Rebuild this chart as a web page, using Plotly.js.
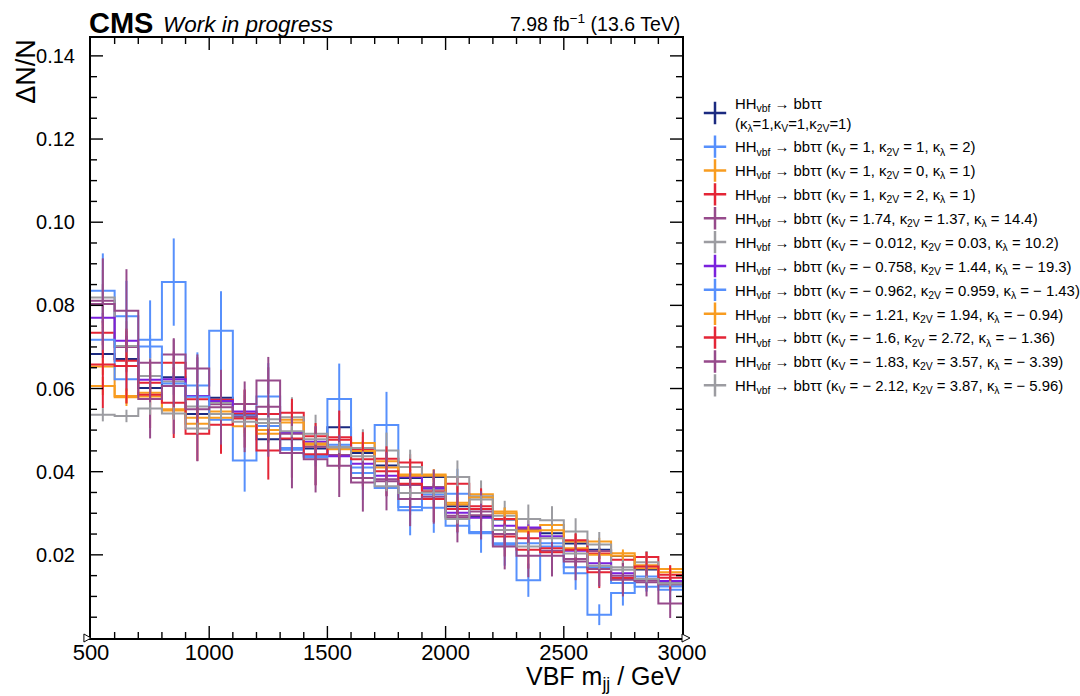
<!DOCTYPE html>
<html>
<head>
<meta charset="utf-8">
<script src="https://cdn.plot.ly/plotly-3.0.1.min.js"></script>
<style>html,body{margin:0;padding:0;background:#fff;}#chart{width:1080px;height:696px;}</style>
</head>
<body>
<div id="chart"></div>
<script>
// ---- data ----
const binEdges = [500,600,700,800,900,1000,1100,1200,1300,1400,1500,1600,1700,1800,1900,2000,2100,2200,2300,2400,2500,2600,2700,2800,2900,3000];
const xTicks = [500,1000,1500,2000,2500,3000];
const yTicks = [0.02,0.04,0.06,0.08,0.10,0.12,0.14];
const yMinorStep = 0.005;

const labels = [
  "HH<sub>vbf</sub> → bbττ<br>(κ<sub>λ</sub>=1,κ<sub>V</sub>=1,κ<sub>2V</sub>=1)",
  "HH<sub>vbf</sub> → bbττ (κ<sub>V</sub> = 1, κ<sub>2V</sub> = 1, κ<sub>λ</sub> = 2)",
  "HH<sub>vbf</sub> → bbττ (κ<sub>V</sub> = 1, κ<sub>2V</sub> = 0, κ<sub>λ</sub> = 1)",
  "HH<sub>vbf</sub> → bbττ (κ<sub>V</sub> = 1, κ<sub>2V</sub> = 2, κ<sub>λ</sub> = 1)",
  "HH<sub>vbf</sub> → bbττ (κ<sub>V</sub> = 1.74, κ<sub>2V</sub> = 1.37, κ<sub>λ</sub> = 14.4)",
  "HH<sub>vbf</sub> → bbττ (κ<sub>V</sub> = − 0.012, κ<sub>2V</sub> = 0.03, κ<sub>λ</sub> = 10.2)",
  "HH<sub>vbf</sub> → bbττ (κ<sub>V</sub> = − 0.758, κ<sub>2V</sub> = 1.44, κ<sub>λ</sub> = − 19.3)",
  "HH<sub>vbf</sub> → bbττ (κ<sub>V</sub> = − 0.962, κ<sub>2V</sub> = 0.959, κ<sub>λ</sub> = − 1.43)",
  "HH<sub>vbf</sub> → bbττ (κ<sub>V</sub> = − 1.21, κ<sub>2V</sub> = 1.94, κ<sub>λ</sub> = − 0.94)",
  "HH<sub>vbf</sub> → bbττ (κ<sub>V</sub> = − 1.6, κ<sub>2V</sub> = 2.72, κ<sub>λ</sub> = − 1.36)",
  "HH<sub>vbf</sub> → bbττ (κ<sub>V</sub> = − 1.83, κ<sub>2V</sub> = 3.57, κ<sub>λ</sub> = − 3.39)",
  "HH<sub>vbf</sub> → bbττ (κ<sub>V</sub> = − 2.12, κ<sub>2V</sub> = 3.87, κ<sub>λ</sub> = − 5.96)"
];
const colors = ["#1b2a80","#5790fc","#f89c20","#e42536","#964a8b","#9c9ca1","#7a21dd","#5790fc","#f89c20","#e42536","#964a8b","#9c9ca1"];

const v1  = [0.0683,0.0671,0.0601,0.0627,0.0539,0.0578,0.0537,0.0478,0.0478,0.0456,0.0507,0.0445,0.0415,0.0385,0.0387,0.0317,0.0291,0.0285,0.0262,0.0252,0.0227,0.0212,0.0197,0.0165,0.0135];
const v2  = [0.0835,0.0774,0.0717,0.0856,0.0607,0.0739,0.0427,0.0581,0.0457,0.0438,0.0575,0.0397,0.0512,0.0307,0.0313,0.0347,0.0255,0.0224,0.0139,0.0220,0.0156,0.0056,0.0108,0.0148,0.0116];
const v3  = [0.0653,0.0582,0.0590,0.0550,0.0515,0.0545,0.0509,0.0491,0.0525,0.0465,0.0456,0.0469,0.0425,0.0393,0.0393,0.0321,0.0346,0.0304,0.0256,0.0272,0.0232,0.0232,0.0204,0.0175,0.0166];
const v4  = [0.0734,0.0667,0.0614,0.0662,0.0574,0.0573,0.0540,0.0539,0.0542,0.0485,0.0483,0.0453,0.0431,0.0422,0.0353,0.0371,0.0317,0.0286,0.0240,0.0216,0.0235,0.0203,0.0188,0.0195,0.0152];
const v5  = [0.0811,0.0700,0.0662,0.0682,0.0648,0.0562,0.0563,0.0619,0.0491,0.0460,0.0440,0.0385,0.0382,0.0368,0.0363,0.0294,0.0304,0.0250,0.0262,0.0210,0.0190,0.0209,0.0150,0.0134,0.0128];
const v6  = [0.0819,0.0702,0.0630,0.0617,0.0557,0.0566,0.0534,0.0526,0.0531,0.0491,0.0460,0.0457,0.0451,0.0411,0.0358,0.0387,0.0341,0.0294,0.0286,0.0283,0.0256,0.0225,0.0170,0.0182,0.0135];
const v7  = [0.0770,0.0715,0.0621,0.0622,0.0582,0.0570,0.0545,0.0500,0.0495,0.0472,0.0437,0.0419,0.0390,0.0388,0.0360,0.0301,0.0289,0.0270,0.0266,0.0245,0.0210,0.0180,0.0156,0.0140,0.0137];
const v8  = [0.0717,0.0622,0.0701,0.0612,0.0580,0.0525,0.0535,0.0510,0.0453,0.0435,0.0465,0.0410,0.0361,0.0315,0.0345,0.0270,0.0252,0.0228,0.0228,0.0228,0.0170,0.0170,0.0132,0.0123,0.0124];
const v9  = [0.0606,0.0579,0.0581,0.0547,0.0530,0.0530,0.0530,0.0500,0.0518,0.0468,0.0454,0.0450,0.0410,0.0390,0.0390,0.0325,0.0338,0.0300,0.0258,0.0259,0.0216,0.0200,0.0198,0.0168,0.0158];
const v10 = [0.0658,0.0654,0.0585,0.0566,0.0491,0.0513,0.0528,0.0451,0.0480,0.0442,0.0477,0.0430,0.0401,0.0371,0.0334,0.0310,0.0310,0.0244,0.0212,0.0206,0.0212,0.0158,0.0144,0.0172,0.0145];
const v11 = [0.0803,0.0787,0.0575,0.0606,0.0550,0.0555,0.0532,0.0556,0.0445,0.0430,0.0414,0.0374,0.0377,0.0334,0.0340,0.0290,0.0295,0.0220,0.0198,0.0198,0.0184,0.0166,0.0140,0.0138,0.0083];
const v12 = [0.0537,0.0534,0.0552,0.0540,0.0504,0.0539,0.0520,0.0517,0.0497,0.0478,0.0458,0.0437,0.0365,0.0349,0.0350,0.0286,0.0333,0.0260,0.0220,0.0240,0.0203,0.0174,0.0164,0.0142,0.0131];

const e1  = [0.0010,0.0010,0.0009,0.0009,0.0008,0.0008,0.0008,0.0008,0.0008,0.0007,0.0007,0.0007,0.0007,0.0006,0.0006,0.0006,0.0006,0.0005,0.0005,0.0005,0.0005,0.0005,0.0004,0.0004,0.0004];
const e2  = [0.0090,0.0085,0.0095,0.0105,0.0080,0.0095,0.0075,0.0080,0.0070,0.0070,0.0085,0.0065,0.0080,0.0060,0.0060,0.0060,0.0050,0.0050,0.0040,0.0045,0.0040,0.0025,0.0030,0.0035,0.0030];
const e3  = [0.0020,0.0018,0.0018,0.0017,0.0016,0.0017,0.0016,0.0015,0.0016,0.0015,0.0015,0.0015,0.0014,0.0013,0.0013,0.0012,0.0012,0.0011,0.0010,0.0010,0.0010,0.0009,0.0009,0.0008,0.0008];
const e4  = [0.0030,0.0028,0.0026,0.0027,0.0025,0.0025,0.0024,0.0024,0.0024,0.0022,0.0022,0.0021,0.0020,0.0020,0.0019,0.0019,0.0018,0.0017,0.0016,0.0015,0.0015,0.0014,0.0013,0.0013,0.0012];
const e5  = [0.0040,0.0038,0.0036,0.0036,0.0034,0.0033,0.0033,0.0032,0.0030,0.0030,0.0029,0.0028,0.0027,0.0026,0.0026,0.0024,0.0024,0.0022,0.0021,0.0020,0.0019,0.0019,0.0017,0.0016,0.0015];
const e6  = [0.0066,0.0060,0.0055,0.0055,0.0052,0.0052,0.0050,0.0050,0.0048,0.0046,0.0045,0.0045,0.0043,0.0042,0.0040,0.0040,0.0038,0.0036,0.0035,0.0034,0.0032,0.0030,0.0028,0.0027,0.0025];
const e7  = [0.0012,0.0012,0.0011,0.0011,0.0010,0.0010,0.0010,0.0010,0.0009,0.0009,0.0009,0.0009,0.0008,0.0008,0.0008,0.0007,0.0007,0.0007,0.0007,0.0006,0.0006,0.0006,0.0005,0.0005,0.0005];
const e8  = [0.0030,0.0028,0.0028,0.0027,0.0026,0.0025,0.0025,0.0024,0.0023,0.0022,0.0022,0.0021,0.0020,0.0019,0.0019,0.0018,0.0017,0.0016,0.0016,0.0015,0.0014,0.0014,0.0013,0.0012,0.0012];
const e9  = [0.0022,0.0021,0.0020,0.0020,0.0019,0.0019,0.0019,0.0018,0.0018,0.0017,0.0017,0.0017,0.0016,0.0015,0.0015,0.0014,0.0014,0.0013,0.0012,0.0012,0.0011,0.0011,0.0010,0.0010,0.0009];
const e10 = [0.0105,0.0090,0.0080,0.0085,0.0065,0.0070,0.0070,0.0070,0.0095,0.0075,0.0070,0.0065,0.0060,0.0060,0.0055,0.0055,0.0050,0.0048,0.0045,0.0042,0.0040,0.0038,0.0036,0.0035,0.0030];
const e11 = [0.0110,0.0100,0.0095,0.0115,0.0125,0.0090,0.0085,0.0120,0.0085,0.0080,0.0075,0.0070,0.0070,0.0065,0.0065,0.0060,0.0058,0.0055,0.0052,0.0050,0.0045,0.0042,0.0040,0.0038,0.0035];
const e12 = [0.0016,0.0015,0.0015,0.0015,0.0014,0.0014,0.0014,0.0014,0.0013,0.0013,0.0013,0.0012,0.0012,0.0011,0.0011,0.0011,0.0010,0.0010,0.0009,0.0009,0.0009,0.0008,0.0008,0.0008,0.0007];

const values = [v1,v2,v3,v4,v5,v6,v7,v8,v9,v10,v11,v12];
const errors = [e1,e2,e3,e4,e5,e6,e7,e8,e9,e10,e11,e12];

// ---- build traces ----
const FONT = "'Liberation Sans', Arial, Helvetica, sans-serif";
const xMin = binEdges[0], xMax = binEdges[binEdges.length-1];
const yMin = 0, yMax = 0.1443;
const PLOT_W = 591, PLOT_H = 600;
const centers = binEdges.slice(0,-1).map((e,i)=> (e + binEdges[i+1]) / 2);
const traces = [];
values.forEach((vals, s) => {
  const col = colors[s];
  traces.push({
    type:'scatter', mode:'lines', x: binEdges, y: vals.concat([vals[vals.length-1]]),
    line:{shape:'hv', color: col, width: 2}, showlegend:false, hoverinfo:'skip'
  });
  traces.push({
    type:'scatter', mode:'markers', x: centers, y: vals,
    marker:{size:1, opacity:0, color: col},
    error_y:{type:'data', array: errors[s], visible:true, color: col, thickness:2, width:0},
    showlegend:false, hoverinfo:'skip'
  });
});

// ---- ROOT-style inside ticks on all four sides (drawn as a line trace) ----
const tx = [], ty = [];
const pxX = (xMax - xMin) / PLOT_W, pxY = (yMax - yMin) / PLOT_H;
binEdges.forEach(e => {
  if (e <= xMin || e >= xMax) return;
  const len = (xTicks.includes(e) ? 12 : 6) * pxY;
  tx.push(e, e, null, e, e, null);
  ty.push(yMin, yMin + len, null, yMax, yMax - len, null);
});
for (let k = 1; k * yMinorStep < yMax; k++) {
  const yv = +(k * yMinorStep).toFixed(4);
  const isMajor = yTicks.some(t => Math.abs(t - yv) < 1e-9);
  const len = (isMajor ? 12 : 6) * pxX;
  tx.push(xMin, xMin + len, null, xMax, xMax - len, null);
  ty.push(yv, yv, null, yv, yv, null);
}
traces.push({type:'scatter', mode:'lines', x: tx, y: ty, line:{color:'#000', width:1.4},
             showlegend:false, hoverinfo:'skip', connectgaps:false});

values.forEach((vals, s) => {
  traces.push({
    type:'scatter', mode:'markers', x:[null], y:[null], name: labels[s], legendgroup:'g' + s,
    marker:{symbol:'cross-thin', size:16, color: colors[s], line:{color: colors[s], width:2.5}},
    showlegend:true
  });
});

const shapes = [
  {type:'path', xref:'paper', yref:'paper', path:'M 0 0 L -0.012 0.0067 L -0.012 -0.0067 Z', line:{color:'#000', width:1}, fillcolor:'#fff'},
  {type:'path', xref:'paper', yref:'paper', path:'M 1 0.0067 L 1.0135 0 L 1 -0.0067 Z', line:{color:'#000', width:1}, fillcolor:'#fff'}
];

const axisCommon = {
  showgrid:false, zeroline:false, showline:true, linecolor:'#000', linewidth:2,
  mirror:true, ticks:'', tickfont:{family: FONT, size:20, color:'#000'}
};

const layout = {
  width:1080, height:696,
  margin:{l:91, r:398, t:38, b:58, autoexpand:false},
  paper_bgcolor:'#fff', plot_bgcolor:'#fff',
  font:{family: FONT, color:'#000'},
  xaxis: Object.assign({}, axisCommon, {
    range:[xMin, xMax],
    tickmode:'array', tickvals: xTicks, ticktext: xTicks.map(String),
    ticklabelstandoff: -6,
    tickfont:{family: FONT, size:22, color:'#000'}
  }),
  yaxis: Object.assign({}, axisCommon, {
    range:[yMin, yMax],
    tickmode:'array', tickvals: yTicks, ticktext: yTicks.map(v=>v.toFixed(2)),
    ticklabelstandoff: 10
  }),
  legend:{
    x:1.022, xanchor:'left', y:0.918, yanchor:'top',
    font:{family: FONT, size:14.9, color:'#000'},
    bgcolor:'rgba(0,0,0,0)', borderwidth:0, tracegroupgap:1.5, itemwidth:30
  },
  annotations:[
    {xref:'paper', yref:'paper', x:-0.006, y:1.0, xanchor:'left', yanchor:'bottom', showarrow:false,
     text:'<b>CMS</b>', font:{family: FONT, size:29, color:'#000'}, yshift:-3},
    {xref:'paper', yref:'paper', x:0.118, y:1.0, xanchor:'left', yanchor:'bottom', showarrow:false,
     text:'<i>Work in progress</i>', font:{family: FONT, size:22.5, color:'#000'}, yshift:-1},
    {xref:'paper', yref:'paper', x:1.0, y:1.0, xanchor:'right', yanchor:'bottom', showarrow:false,
     text:'7.98 fb<sup>−1</sup> (13.6 TeV)', font:{family: FONT, size:19.5, color:'#000'}, yshift:1},
    {xref:'paper', yref:'paper', x:-0.11, y:1.003, xanchor:'center', yanchor:'top', showarrow:false,
     textangle:-90, text:'ΔN/N', font:{family: FONT, size:27, color:'#000'}},
    {xref:'paper', yref:'paper', x:1.0, y:-0.0955, xanchor:'right', yanchor:'bottom', showarrow:false,
     borderpad:0, text:'VBF m<sub>jj</sub> / GeV', font:{family: FONT, size:25, color:'#000'}}
  ],
  shapes: shapes
};

Plotly.newPlot('chart', traces, layout, {staticPlot:true, displayModeBar:false});
</script>
</body>
</html>
